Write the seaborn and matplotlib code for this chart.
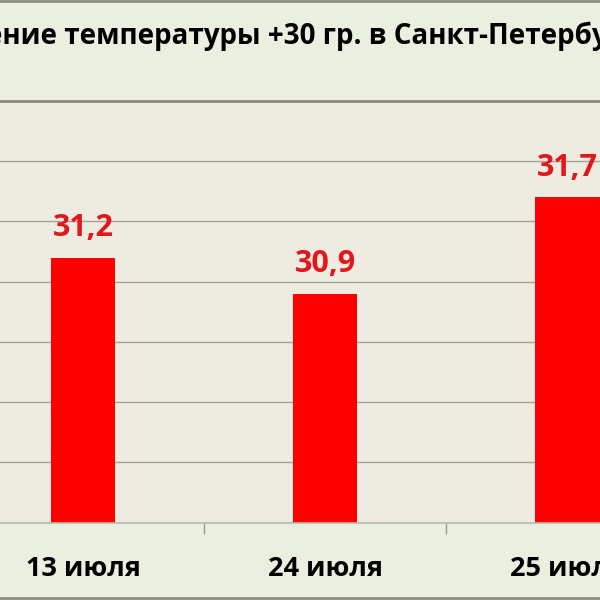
"""Столбчатая диаграмма: дни с температурой выше +30 в Санкт-Петербурге."""

import matplotlib
matplotlib.use("Agg")

import matplotlib.pyplot as plt
import seaborn as sns
from matplotlib.lines import Line2D


DAYS = ["13 июля", "24 июля", "25 июля"]
TEMPS = [31.2, 30.9, 31.7]
LABELS = ["31,2", "30,9", "31,7"]
TITLE = "Превышение температуры +30 гр. в Санкт-Петербурге"
TITLE_PREFIX = "Превыше"  # часть заголовка, обрезанная слева

BAND_COLOR = "#EBEFDF"
PLOT_COLOR = "#EEEBE1"
BAR_COLOR = "#FF0000"
LABEL_COLOR = "#E3161B"
FONT = ["Open Sans", "DejaVu Sans"]

sns.set_theme(style="white")
plt.rcParams["font.family"] = FONT

fig = plt.figure(figsize=(6, 6), dpi=100)
fig.patch.set_facecolor(BAND_COLOR)

# область графика выходит за края картинки (как на обрезанном скриншоте)
ax = fig.add_axes([-38 / 600, 77.3 / 600, 726.5 / 600, 421.7 / 600])
ax.set_facecolor(PLOT_COLOR)

sns.barplot(x=DAYS, y=TEMPS, color=BAR_COLOR, saturation=1, width=0.266,
            linewidth=0, ax=ax)
ax.set_ylim(29, 32.5)
ax.set_yticks([29.5, 30, 30.5, 31, 31.5, 32])
ax.set_yticklabels([])
ax.tick_params(axis="y", length=0)
ax.grid(axis="y", color="#A4A49C", linewidth=1)
ax.set_axisbelow(True)
ax.set_xlabel("")
ax.set_ylabel("")

ax.set_xticks([0, 1, 2])
ax.set_xticklabels(DAYS, fontsize=19.5, fontweight="bold", color="black")
ax.set_xticks([0.5, 1.5], minor=True)
ax.tick_params(axis="x", which="major", length=0, pad=24)
ax.tick_params(axis="x", which="minor", length=8, width=1, color="#9A9A92", direction="out", bottom=True)

for side in ["left", "right"]:
    ax.spines[side].set_visible(False)
ax.spines["top"].set_color("#8A8C80")
ax.spines["top"].set_linewidth(2)
ax.spines["bottom"].set_color("#B8B8AE")
ax.spines["bottom"].set_linewidth(1.2)

ax.bar_label(ax.containers[0], labels=LABELS, padding=10.5, fontsize=22,
             fontweight="bold", color=LABEL_COLOR)

# рамки полос заголовка и подписей
for y in [599 / 600, 2 / 600]:
    fig.add_artist(Line2D([0, 1], [y, y], color="#8E9084", linewidth=2))

# заголовок: сдвигаем так, чтобы видимая часть начиналась с "ние"
renderer = fig.canvas.get_renderer()
probe = fig.text(0, 0, TITLE_PREFIX, fontsize=20, fontweight="bold")
prefix_w = probe.get_window_extent(renderer).width
probe.remove()
fig.text((2 - prefix_w) / 600, (600 - 44) / 600, TITLE, fontsize=20,
         fontweight="bold", color="black", ha="left", va="baseline")

fig.savefig("out.png", dpi=100, facecolor=fig.get_facecolor())
